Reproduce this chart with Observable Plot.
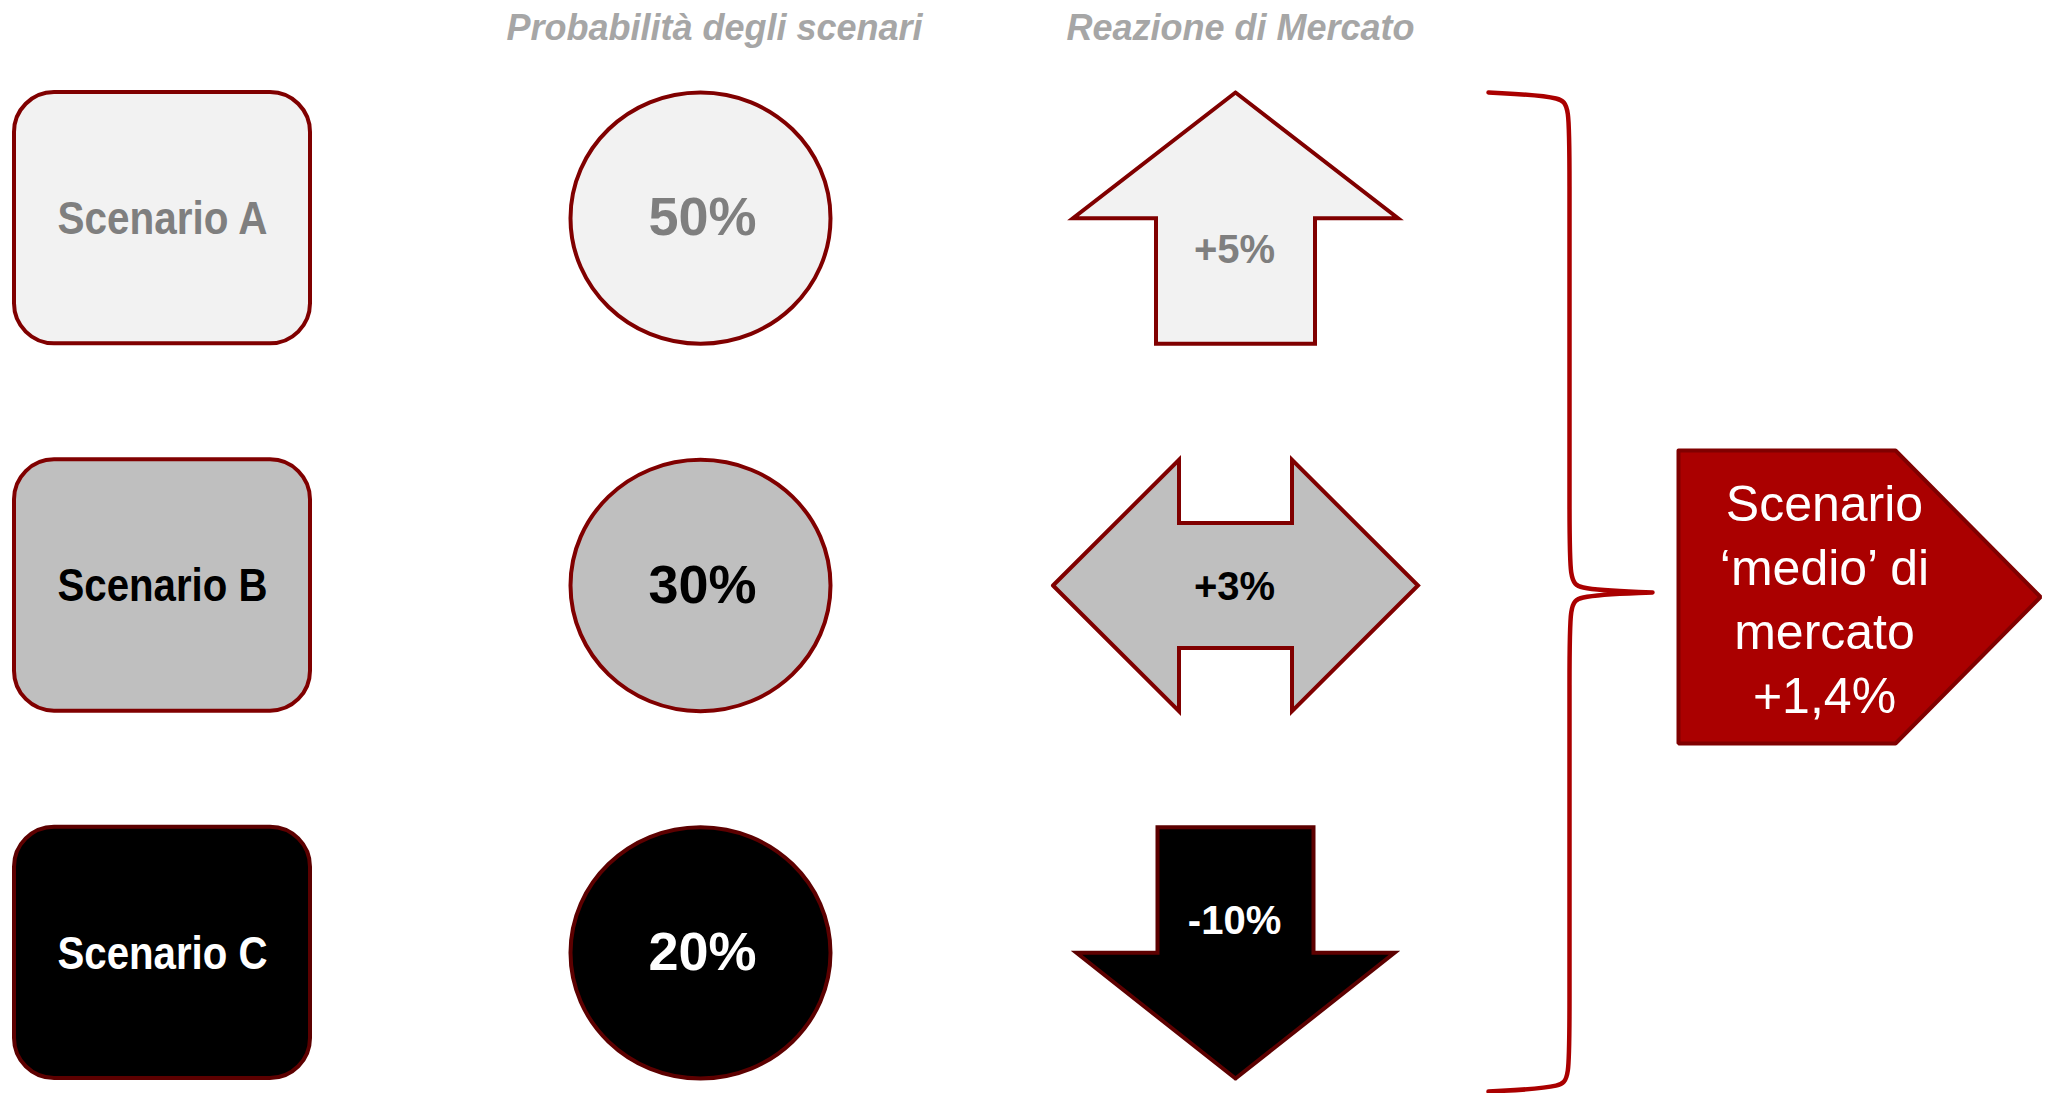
<!DOCTYPE html>
<html>
<head>
<meta charset="utf-8">
<script src="https://cdn.jsdelivr.net/npm/d3@7"></script>
<script src="https://cdn.jsdelivr.net/npm/@observablehq/plot@0.6"></script>
<style>
  html, body { margin: 0; padding: 0; background: #ffffff; }
  #chart svg { display: block; }
</style>
</head>
<body>
<div id="chart"></div>
<script>
// ---- data ----
const scenarios = ["Scenario A", "Scenario B", "Scenario C"];
const probabilities = [50, 30, 20];          // probability of each scenario, %
const reactions = [5, 3, -10];               // market reaction in each scenario, %
const arrowKinds = ["up", "both", "down"];
const columnTitles = ["Probabilità degli scenari", "Reazione di Mercato"];
const summaryLines = ["Scenario", "‘medio’ di", "mercato"];

// ---- styles per row ----
const rowFill = ["#F2F2F2", "#BFBFBF", "#000000"];
const rowText = ["#7F7F7F", "#000000", "#FFFFFF"];
const rowStroke = ["#800000", "#800000", "#5C0000"];
const red = "#AA0000";
const darkRed = "#800000";
const font = "'Liberation Sans', Arial, sans-serif";

// Italian number formatting (decimal comma, plain hyphen minus)
const it = d3.formatLocale({decimal: ",", thousands: ".", grouping: [3], currency: ["", " €"], minus: "-"});
const fmtSigned = it.format("+d");
const fmtSigned1 = it.format("+.1f");

// probability-weighted average market reaction
const expected = d3.sum(probabilities, (p, i) => (p / 100) * reactions[i]);

// ---- layout ----
const W = 2048, H = 1093;
const band = d3.scaleBand().domain(scenarios).range([92, 1078]).paddingInner(0.316).paddingOuter(0);
const half = band.bandwidth() / 2;
const colBox = [14, 310];
const colProb = 700;
const probRx = 130;
const colArrow = 1235;
const labelShift = {up: 32, both: 2, down: -32};

const rows = scenarios.map((s, i) => ({
  s, i,
  p: probabilities[i],
  r: reactions[i],
  kind: arrowKinds[i],
  cy: band(s) + half
}));

// arrow outlines around a row centre
function arrowOutline(kind, cx, cy, h) {
  let pts;
  if (kind === "up") {
    const hw = 162.5, sw = 79.5;
    pts = [[cx, cy - h], [cx + hw, cy], [cx + sw, cy], [cx + sw, cy + h], [cx - sw, cy + h], [cx - sw, cy], [cx - hw, cy]];
  } else if (kind === "down") {
    const hw = 159, sw = 78;
    pts = [[cx, cy + h], [cx + hw, cy], [cx + sw, cy], [cx + sw, cy - h], [cx - sw, cy - h], [cx - sw, cy], [cx - hw, cy]];
  } else {
    const hl = 182.5, nx = 56.5, sh = 62.5;
    pts = [[cx - hl, cy], [cx - nx, cy - h], [cx - nx, cy - sh], [cx + nx, cy - sh], [cx + nx, cy - h], [cx + hl, cy],
           [cx + nx, cy + h], [cx + nx, cy + sh], [cx - nx, cy + sh], [cx - nx, cy + h]];
  }
  pts.push(pts[0]);
  return pts.map(([x, y]) => ({x, y}));
}

// slightly flattened ellipse as a dot symbol
const ellipse = (k) => ({
  draw(ctx, size) {
    const rx = Math.sqrt(size / Math.PI), ry = rx * k, c = 0.5523;
    ctx.moveTo(rx, 0);
    ctx.bezierCurveTo(rx, ry * c, rx * c, ry, 0, ry);
    ctx.bezierCurveTo(-rx * c, ry, -rx, ry * c, -rx, 0);
    ctx.bezierCurveTo(-rx, -ry * c, -rx * c, -ry, 0, -ry);
    ctx.bezierCurveTo(rx * c, -ry, rx, -ry * c, rx, 0);
    ctx.closePath();
  }
});

// summary pentagon and curly brace
const pentagon = [[1678, 450], [1895, 450], [2040, 596.5], [1895, 743], [1678, 743], [1678, 450]].map(([x, y]) => ({x, y}));
const brace = [[1488, 92], [1488, 92], [1569, 96], [1569, 112], [1569, 574], [1569, 589], [1652, 592], [1652, 592], [1652, 592],
               [1569, 595], [1569, 610], [1569, 1072], [1569, 1087], [1488, 1091], [1488, 1091]].map(([x, y]) => ({x, y}));

const marks = [
  // column titles
  Plot.text(columnTitles, {
    x: (d, i) => [714, 1240][i], y: 39, text: d => d, lineAnchor: "bottom",
    fontSize: 36, fontStyle: "italic", fontWeight: "bold", fill: "#A6A6A6", fontFamily: font
  }),
  // scenario boxes
  Plot.rect(rows, {
    x1: colBox[0], x2: colBox[1], y1: d => band(d.s), y2: d => band(d.s) + band.bandwidth(),
    rx: 40, fill: d => rowFill[d.i], stroke: d => rowStroke[d.i], strokeWidth: 4
  }),
  Plot.text(rows, {
    x: (colBox[0] + colBox[1]) / 2, y: d => d.cy + 1, text: d => d.s,
    fontSize: 46, fontWeight: "bold", fill: d => rowText[d.i], fontFamily: font
  }),
  // probabilities
  Plot.dot(rows, {
    x: colProb, y: d => d.cy, r: probRx, symbol: ellipse(half / probRx),
    fill: d => rowFill[d.i], stroke: d => rowStroke[d.i], strokeWidth: 4
  }),
  Plot.text(rows, {
    x: colProb + 2, y: d => d.cy, text: d => `${d.p}%`,
    fontSize: 54, fontWeight: "bold", fill: d => rowText[d.i], fontFamily: font
  }),
  // market reactions
  ...rows.map(d => Plot.line(arrowOutline(d.kind, colArrow, d.cy, half), {
    x: "x", y: "y", fill: rowFill[d.i], stroke: rowStroke[d.i], strokeWidth: 4, strokeLinejoin: "miter", strokeMiterlimit: 10
  })),
  Plot.text(rows, {
    x: colArrow - 1, y: d => d.cy + labelShift[d.kind], text: d => `${fmtSigned(d.r)}%`,
    fontSize: 40, fontWeight: "bold", fill: d => rowText[d.i], fontFamily: font
  }),
  // brace grouping the three scenarios
  Plot.line(brace, {x: "x", y: "y", curve: "basis", stroke: red, strokeWidth: 4.5, fill: "none"}),
  // weighted average
  Plot.line(pentagon, {x: "x", y: "y", fill: red, stroke: darkRed, strokeWidth: 4, strokeLinejoin: "miter"}),
  Plot.text([[...summaryLines, `${fmtSigned1(expected)}%`].join("\n")], {
    x: 1824, y: 712, text: d => d, lineAnchor: "bottom", lineHeight: 1.28,
    fontSize: 50, fill: "#FFFFFF", fontFamily: font
  })
];

const chart = Plot.plot({
  width: W, height: H,
  margin: 0,
  x: {domain: [0, W], range: [0, W], axis: null},
  y: {domain: [0, H], range: [0, H], axis: null},
  color: {type: "identity"},
  style: {background: "#ffffff", overflow: "visible"},
  marks
});

// the box labels are set in a narrower cut than the stock bold face
d3.select(chart).selectAll("text")
  .filter(function () { return scenarios.includes(this.textContent); })
  .attr("textLength", 210)
  .attr("lengthAdjust", "spacingAndGlyphs");

document.getElementById("chart").appendChild(chart);
</script>
</body>
</html>
